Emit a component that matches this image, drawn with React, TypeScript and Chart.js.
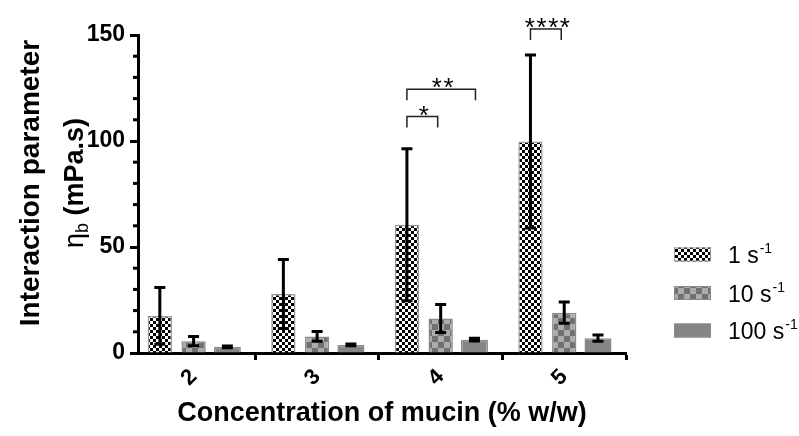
import React, { useEffect, useRef } from 'react';
import { Chart, registerables } from 'chart.js';

Chart.register(...registerables);

const FONT = 'Arial, "Liberation Sans", Helvetica, sans-serif';

// Data
const concentrations = [2, 3, 4, 5];
const rate1Mean = [17.5, 27.8, 60.5, 99.8];
const rate1Sd = [13.4, 16.3, 35.8, 40.8];
const rate10Mean = [5.6, 7.8, 16.3, 19.0];
const rate10Sd = [2.2, 2.3, 6.6, 5.0];
const rate100Mean = [2.9, 3.8, 6.3, 7.0];
const rate100Sd = [0.4, 0.4, 0.6, 1.5];
const seriesLabels = ['1 s', '10 s', '100 s'];
const seriesSuperscript = '-1';
const yTickValues = [0, 50, 100, 150];
const yMinorStep = 10;
const xTitle = 'Concentration of mucin (% w/w)';
const yTitleLine1 = 'Interaction parameter';
const yTitleSymbol = 'η';
const yTitleSub = 'b';
const yTitleUnit = ' (mPa.s)';

// Significance brackets: group index, from series, to series, top value, label
const sigGroups = [2, 2, 3];
const sigFrom = [0, 0, 0];
const sigTo = [1, 2, 1];
const sigTop = [111.5, 124.4, 152.8];
const sigLabels = ['*', '**', '****'];

function makeChecker(ctx: CanvasRenderingContext2D, cell: number, a: string, b: string) {
  const c = document.createElement('canvas');
  c.width = cell * 2;
  c.height = cell * 2;
  const g = c.getContext('2d')!;
  g.fillStyle = b;
  g.fillRect(0, 0, cell * 2, cell * 2);
  g.fillStyle = a;
  g.fillRect(0, 0, cell, cell);
  g.fillRect(cell, cell, cell, cell);
  return ctx.createPattern(c, 'repeat')!;
}

export default function App() {
  const ref = useRef<HTMLCanvasElement>(null);

  useEffect(() => {
    const canvas = ref.current!;
    const ctx0 = canvas.getContext('2d')!;
    const pat1 = makeChecker(ctx0, 3, '#000000', '#ffffff');
    const pat10 = makeChecker(ctx0, 6, '#717171', '#acacac');
    const fill100 = '#858585';
    const fills: any[] = [pat1, pat10, fill100];
    const borders = ['#9a9a9a', '#8a8a8a', '#8a8a8a'];
    const sds = [rate1Sd, rate10Sd, rate100Sd];
    const means = [rate1Mean, rate10Mean, rate100Mean];

    const errorBars = {
      id: 'errorBars',
      afterDatasetsDraw(chart: any) {
        const ctx = chart.ctx;
        const y = chart.scales.y;
        ctx.save();
        ctx.strokeStyle = '#000';
        ctx.lineWidth = 3;
        for (let d = 0; d < 3; d++) {
          const meta = chart.getDatasetMeta(d);
          meta.data.forEach((el: any, i: number) => {
            const m = means[d][i];
            const s = sds[d][i];
            const yt = y.getPixelForValue(m + s);
            const yb = y.getPixelForValue(m - s);
            const x = el.x;
            const half = 5.5;
            ctx.beginPath();
            ctx.moveTo(x, yt);
            ctx.lineTo(x, yb);
            ctx.moveTo(x - half, yt);
            ctx.lineTo(x + half, yt);
            ctx.moveTo(x - half, yb);
            ctx.lineTo(x + half, yb);
            ctx.stroke();
          });
        }
        ctx.restore();
      },
    };

    const decorations = {
      id: 'decorations',
      afterDraw(chart: any) {
        const ctx = chart.ctx;
        const y = chart.scales.y;
        const area = chart.chartArea;

        // minor y ticks
        ctx.save();
        ctx.strokeStyle = '#000';
        ctx.lineWidth = 3;
        for (let v = 0; v <= 150; v += yMinorStep) {
          if (yTickValues.includes(v)) continue;
          const py = y.getPixelForValue(v);
          ctx.beginPath();
          ctx.moveTo(area.left - 5, py);
          ctx.lineTo(area.left, py);
          ctx.stroke();
        }
        ctx.restore();

        // y title
        ctx.save();
        const yc = 183;
        ctx.fillStyle = '#000';
        ctx.translate(39, yc);
        ctx.rotate(-Math.PI / 2);
        ctx.textAlign = 'center';
        ctx.textBaseline = 'alphabetic';
        ctx.font = `bold 28px ${FONT}`;
        ctx.fillText(yTitleLine1, 0, 0);
        ctx.restore();

        ctx.save();
        ctx.fillStyle = '#000';
        ctx.translate(83, yc);
        ctx.rotate(-Math.PI / 2);
        ctx.textAlign = 'left';
        ctx.textBaseline = 'alphabetic';
        const fSym = `27px ${FONT}`;
        const fSub = `18px ${FONT}`;
        const fUnit = `bold 27px ${FONT}`;
        ctx.font = fSym;
        const wSym = ctx.measureText(yTitleSymbol).width;
        ctx.font = fSub;
        const wSub = ctx.measureText(yTitleSub).width;
        ctx.font = fUnit;
        const wUnit = ctx.measureText(yTitleUnit).width;
        let sx = -(wSym + wSub + wUnit) / 2;
        ctx.font = fSym;
        ctx.fillText(yTitleSymbol, sx, 0);
        sx += wSym;
        ctx.font = fSub;
        ctx.fillText(yTitleSub, sx, 5);
        sx += wSub;
        ctx.font = fUnit;
        ctx.fillText(yTitleUnit, sx, 0);
        ctx.restore();

        // significance brackets
        ctx.save();
        ctx.strokeStyle = '#222';
        ctx.fillStyle = '#000';
        ctx.lineWidth = 1.5;
        sigGroups.forEach((g, k) => {
          const x1 = chart.getDatasetMeta(sigFrom[k]).data[g].x;
          const x2 = chart.getDatasetMeta(sigTo[k]).data[g].x + (sigTo[k] === 1 ? -3 : 1);
          const top = y.getPixelForValue(sigTop[k]);
          ctx.beginPath();
          ctx.moveTo(x1, top + 11);
          ctx.lineTo(x1, top);
          ctx.lineTo(x2, top);
          ctx.lineTo(x2, top + 11);
          ctx.stroke();
          const label = sigLabels[k];
          const n = label.length;
          const cx = (x1 + x2) / 2 + 1.5;
          ctx.font = `26px ${FONT}`;
          ctx.textAlign = 'center';
          ctx.textBaseline = 'alphabetic';
          for (let j = 0; j < n; j++) {
            const px = cx + (j - (n - 1) / 2) * 11.7;
            ctx.fillText(label[j], px, top + 7);
          }
        });
        ctx.restore();

        // legend
        ctx.save();
        const boxX = 674;
        const boxW = 37;
        const boxH = 14;
        const baselines = [263, 301.5, 339];
        seriesLabels.forEach((lab, i) => {
          const cy = baselines[i] - 8.5;
          ctx.fillStyle = fills[i];
          ctx.fillRect(boxX, cy - boxH / 2, boxW, boxH);
          ctx.strokeStyle = borders[i];
          ctx.lineWidth = 1;
          ctx.strokeRect(boxX + 0.5, cy - boxH / 2 + 0.5, boxW - 1, boxH - 1);
          ctx.fillStyle = '#000';
          ctx.textAlign = 'left';
          ctx.textBaseline = 'alphabetic';
          ctx.font = `23px ${FONT}`;
          ctx.fillText(lab, 728, baselines[i]);
          const w = ctx.measureText(lab).width;
          ctx.font = `14px ${FONT}`;
          ctx.fillText(seriesSuperscript, 728 + w + 1, baselines[i] - 10);
        });
        ctx.restore();
      },
    };

    const chart = new Chart(canvas, {
      type: 'bar',
      data: {
        datasets: [0, 1, 2].map((d) => ({
          label: seriesLabels[d],
          data: concentrations.map((c, i) => ({ x: c, y: means[d][i] })),
          backgroundColor: fills[d],
          borderColor: borders[d],
          borderWidth: 1.5,
          categoryPercentage: 0.82,
          barPercentage: d === 2 ? 0.8 : 0.72,
        })),
      },
      options: {
        animation: false,
        responsive: true,
        maintainAspectRatio: false,
        layout: { padding: { top: 35, right: 173, left: 0, bottom: 0 } },
        plugins: {
          legend: { display: false },
          tooltip: { enabled: false },
        },
        scales: {
          x: {
            type: 'linear',
            min: 1.55,
            max: 5.5,
            offset: false,
            grid: {
              display: true,
              drawOnChartArea: false,
              drawTicks: true,
              tickLength: 7,
              tickWidth: 3,
              tickColor: '#000',
            },
            border: { display: true, color: '#000', width: 3 },
            ticks: {
              stepSize: 1,
              includeBounds: false,
              autoSkip: false,
              minRotation: 45,
              maxRotation: 45,
              padding: 4,
              color: '#000',
              font: { family: FONT, size: 22, weight: 'bold' },
              callback: (v: any) => String(v),
            },
            title: {
              display: true,
              text: xTitle,
              color: '#000',
              font: { family: FONT, size: 27, weight: 'bold' },
              padding: { top: 0, bottom: 6 },
            },
            afterFit: (s: any) => {
              s.height = 83;
            },
          } as any,
          y: {
            min: 0,
            max: 150,
            grid: {
              display: true,
              drawOnChartArea: false,
              drawTicks: true,
              tickLength: 8,
              tickWidth: 3,
              tickColor: '#000',
            },
            border: { display: true, color: '#000', width: 3 },
            ticks: {
              stepSize: 50,
              padding: 5,
              color: '#000',
              font: { family: FONT, size: 23, weight: 'bold' },
            },
            afterFit: (s: any) => {
              s.width = 138;
            },
          } as any,
        },
      },
      plugins: [errorBars, decorations],
    });

    return () => chart.destroy();
  }, []);

  return (
    <div style={{ position: 'fixed', left: 0, top: 0, width: 799, height: 436, background: '#fff' }}>
      <canvas ref={ref} />
    </div>
  );
}
